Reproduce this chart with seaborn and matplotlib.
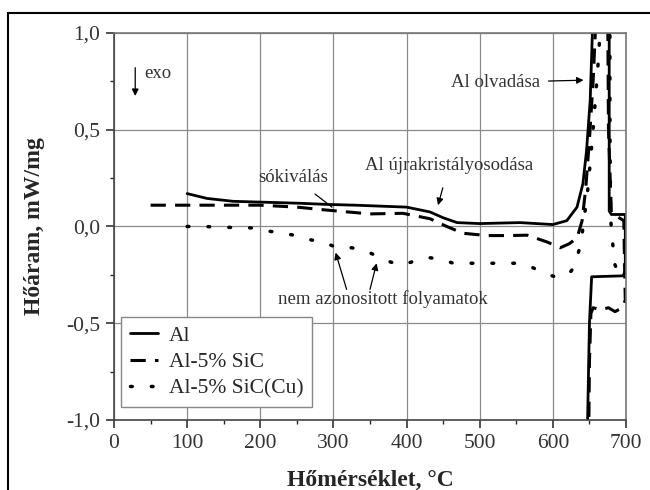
import matplotlib
matplotlib.use("Agg")
import matplotlib.pyplot as plt
import matplotlib.ticker as mticker
import numpy as np
import pandas as pd
import seaborn as sns

# DSC curves (temperature in °C, heat flow in mW/mg)
al_T = [100, 127, 163, 209, 254, 291, 330, 400, 432, 450, 469, 500, 555, 600, 619,
        633, 641, 646, 651, 654, 656, 677, 677, 680, 699, 699, 696, 653, 650, 647]
al_q = [0.17, 0.145, 0.13, 0.125, 0.12, 0.114, 0.11, 0.10, 0.075, 0.045, 0.02, 0.015,
        0.02, 0.01, 0.03, 0.10, 0.22, 0.39, 0.65, 1.0, 1.1, 1.1, 0.08, 0.062, 0.062,
        -0.23, -0.255, -0.26, -0.5, -1.1]

sic_T = [50, 100, 150, 200, 250, 290, 320, 350, 395, 432, 455, 477, 510, 537, 565,
         592, 610, 622, 633, 640, 645, 650, 655, 658, 660, 675, 676, 680, 697, 698,
         699, 695, 685, 676, 665, 655, 652, 650, 649]
sic_q = [0.11, 0.11, 0.11, 0.11, 0.10, 0.085, 0.075, 0.065, 0.068, 0.04, 0.0, -0.035,
         -0.047, -0.047, -0.045, -0.08, -0.11, -0.09, -0.06, 0.03, 0.2, 0.45, 0.75,
         1.0, 1.1, 1.1, 0.5, 0.07, 0.03, -0.2, -0.38, -0.42, -0.44, -0.42, -0.43,
         -0.42, -0.45, -0.7, -1.1]

cu_T = [100, 122, 159, 179, 195, 213, 234, 252, 270, 286, 305, 325, 343, 361, 375,
        392, 410, 429, 447, 464, 482, 500, 518, 537, 555, 571, 587, 603, 621, 629,
        636, 640, 648, 655, 662, 666, 678, 678, 679, 681, 685, 692, 699]
cu_q = [0.0, 0.0, -0.005, -0.005, -0.01, -0.025, -0.036, -0.05, -0.07, -0.08, -0.11,
        -0.11, -0.125, -0.155, -0.18, -0.20, -0.18, -0.16, -0.17, -0.19, -0.19, -0.19,
        -0.19, -0.19, -0.19, -0.21, -0.24, -0.26, -0.25, -0.21, -0.12, -0.04, 0.2, 0.5,
        0.85, 1.1, 1.1, 0.5, 0.04, -0.06, -0.2, -0.25, -0.27]

labels = ["Al", "Al-5% SiC", "Al-5% SiC(Cu)"]
x_ticks = [0, 100, 200, 300, 400, 500, 600, 700]
y_ticks = [-1.0, -0.5, 0.0, 0.5, 1.0]

sns.set_style("white")
plt.rcParams["font.family"] = ["Liberation Serif", "DejaVu Serif"]

fig = plt.figure(figsize=(6.5, 4.9), dpi=100)
ax = fig.add_axes([0.1754, 0.1429, 0.7877, 0.7898])

styles = [dict(linestyle="-", linewidth=2.0),
          dict(linestyle=(0, (5, 3)), linewidth=2.2),
          dict(linestyle=(0, (0.5, 5.5)), linewidth=2.5, dash_capstyle="round")]
series = [(al_T, al_q), (sic_T, sic_q), (cu_T, cu_q)]
for (t, q), lab, st in zip(series, labels, styles):
    df = pd.DataFrame({"T": t, "q": q})
    sns.lineplot(data=df, x="T", y="q", sort=False, estimator=None,
                 color="black", label=lab, ax=ax, **st)

ax.set_xlim(0, 700)
ax.set_ylim(-1.0, 1.0)
ax.set_xticks(x_ticks)
ax.set_yticks(y_ticks)
ax.xaxis.set_minor_locator(mticker.MultipleLocator(50))
ax.yaxis.set_minor_locator(mticker.MultipleLocator(0.25))
ax.yaxis.set_major_formatter(mticker.FuncFormatter(lambda v, p: f"{v:.1f}".replace(".", ",")))
ax.grid(True, which="major", color="#8a8a8a", linewidth=0.9)
ax.tick_params(which="major", direction="out", length=6, width=1.2, labelsize=15.5,
               colors="#333333", bottom=True, left=True, pad=4)
ax.tick_params(which="minor", direction="out", length=3, width=1.0, bottom=True, left=True)
for s in ax.spines.values():
    s.set_color("#777777")
    s.set_linewidth(1.2)
ax.spines["bottom"].set_color("#444444")
ax.spines["left"].set_color("#444444")

ax.set_xlabel("Hőmérséklet, °C", fontsize=17, fontweight="bold", labelpad=12)
ax.set_ylabel("Hőáram, mW/mg", fontsize=17, fontweight="bold", labelpad=15)

leg = ax.legend(loc="lower left", bbox_to_anchor=(0.014, 0.033), borderaxespad=0,
                fontsize=15.5, handlelength=1.3, handletextpad=0.5, fancybox=False,
                edgecolor="#888888", framealpha=1, labelspacing=0.3, borderpad=0.4)
leg.get_frame().set_linewidth(1.0)

# annotations
akw = dict(arrowstyle="-|>", color="black", lw=0.9, mutation_scale=10)
ax.annotate("", xy=(29, 0.66), xytext=(29, 0.835), arrowprops=akw)
ax.text(42, 0.79, "exo", fontsize=13.5, va="center", color="#333333")
ax.annotate("sókiválás", xy=(298, 0.10), xytext=(245, 0.255), fontsize=13.5, color="#333333",
            ha="center", va="center",
            arrowprops=dict(arrowstyle="-", color="black", lw=0.9, shrinkA=6, shrinkB=0))
ax.annotate("Al újrakristályosodása", xy=(443, 0.11), xytext=(458, 0.316), fontsize=13.5,
            color="#333333", ha="center", va="center",
            arrowprops=dict(akw, shrinkA=8, shrinkB=0))
ax.annotate("Al olvadása", xy=(642, 0.756), xytext=(521, 0.745), fontsize=13.5,
            color="#333333", ha="center", va="center",
            arrowprops=dict(akw, shrinkA=4, shrinkB=0))
ax.text(368, -0.375, "nem azonositott folyamatok", fontsize=13.5, color="#333333",
        ha="center", va="center")
ax.annotate("", xy=(303, -0.135), xytext=(318, -0.325), arrowprops=dict(akw, shrinkA=0, shrinkB=0))
ax.annotate("", xy=(359, -0.19), xytext=(350, -0.325), arrowprops=dict(akw, shrinkA=0, shrinkB=0))

# outer frame of the figure
fig.patches.append(plt.Rectangle((8 / 650, -0.05), 1.2, 1 - 13 / 490 + 0.05,
                                 transform=fig.transFigure, fill=False,
                                 edgecolor="black", linewidth=1.5))

fig.savefig("out.png", dpi=100)
